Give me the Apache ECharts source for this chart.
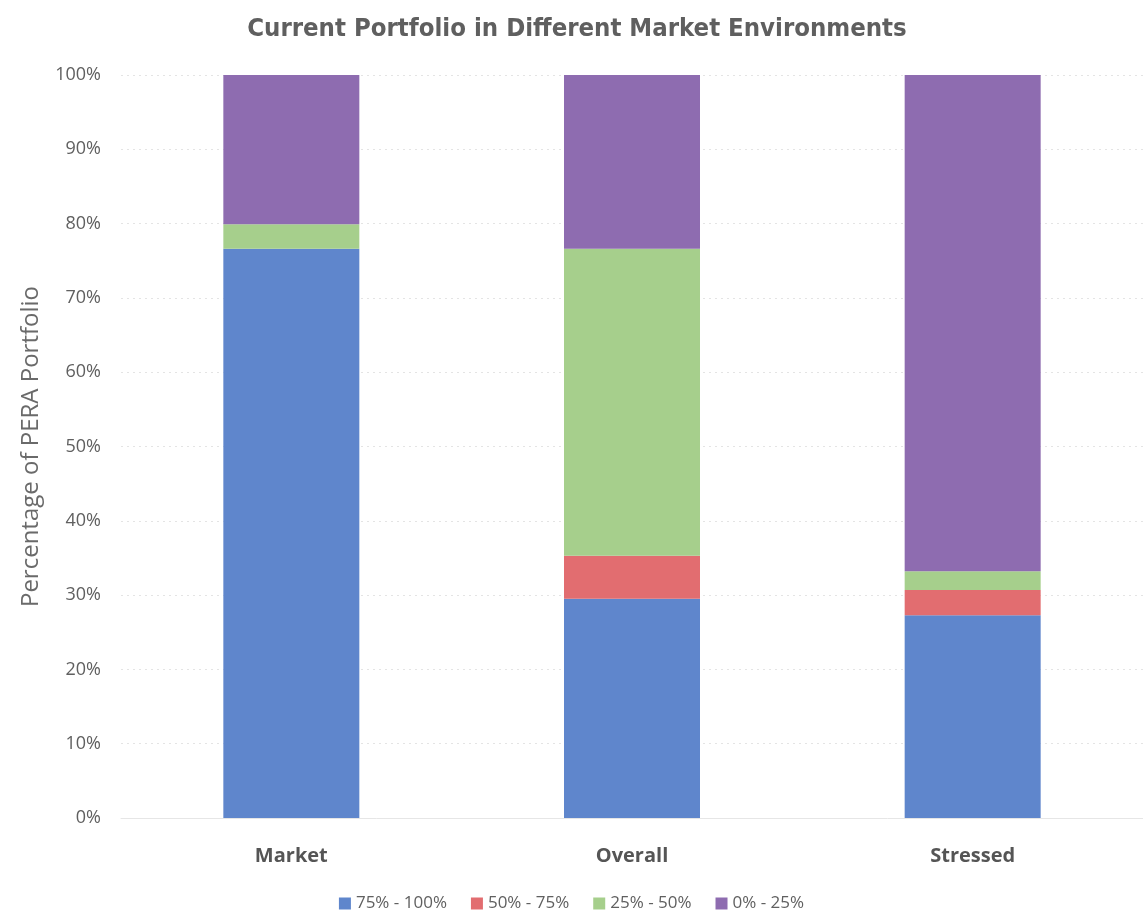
<!DOCTYPE html>
<html><head><meta charset="utf-8">
<script src="https://cdn.jsdelivr.net/npm/echarts@6/dist/echarts.min.js"></script>
<style>html,body{margin:0;padding:0;background:#fff}#c{width:1143px;height:914px}</style>
</head><body><div id="c"></div>
<script>
const categories = ["Market", "Overall", "Stressed"];
const seriesNames = ["75% - 100%", "50% - 75%", "25% - 50%", "0% - 25%"];
const s75_100 = [76.6, 29.5, 27.3];
const s50_75 = [0, 5.8, 3.4];
const s25_50 = [3.3, 41.3, 2.5];
const s0_25 = [20.1, 23.4, 66.8];
const colors = ["#5f86cc", "#e26d70", "#a6cf8c", "#8e6cb0"];

const chart = echarts.init(document.getElementById('c'));
const data = [s75_100, s50_75, s25_50, s0_25];
chart.setOption({
  animation: false,
  title: {text: "Current Portfolio in Different Market Environments", left: 572, textAlign: 'center', top: 11,
    textStyle: {fontFamily: "'DejaVu Sans Condensed', 'Open Sans', sans-serif", fontWeight: 'bold', fontSize: 25.5, color: '#5f5f5f'}},
  grid: {left: 121, right: -3, top: 75, bottom: 96},
  legend: {bottom: -3, itemWidth: 12, itemHeight: 12, itemGap: 24, icon: 'rect',
    textStyle: {fontFamily: "Open Sans", fontSize: 17, color: '#606060'}},
  xAxis: {type: 'category', data: categories, axisTick: {show: false},
    axisLine: {lineStyle: {color: '#e6e6e6'}},
    axisLabel: {margin: 28, fontFamily: "Open Sans", fontWeight: 'bold', fontSize: 20, color: '#555'}},
  yAxis: {type: 'value', min: 0, max: 100, interval: 10,
    name: "Percentage of PERA Portfolio", nameLocation: 'middle', nameGap: 78,
    nameTextStyle: {fontFamily: "Open Sans", fontSize: 24, color: '#6a6a6a'},
    axisLabel: {formatter: '{value}%', fontFamily: "Open Sans", fontSize: 18, color: '#606060', margin: 20},
    splitLine: {lineStyle: {color: '#e4e4e4', type: [2, 4]}}},
  series: data.map((d, i) => ({name: seriesNames[i], type: 'bar', stack: 'a', data: d, barWidth: 136,
    itemStyle: {color: colors[i]}}))
});
</script></body></html>
